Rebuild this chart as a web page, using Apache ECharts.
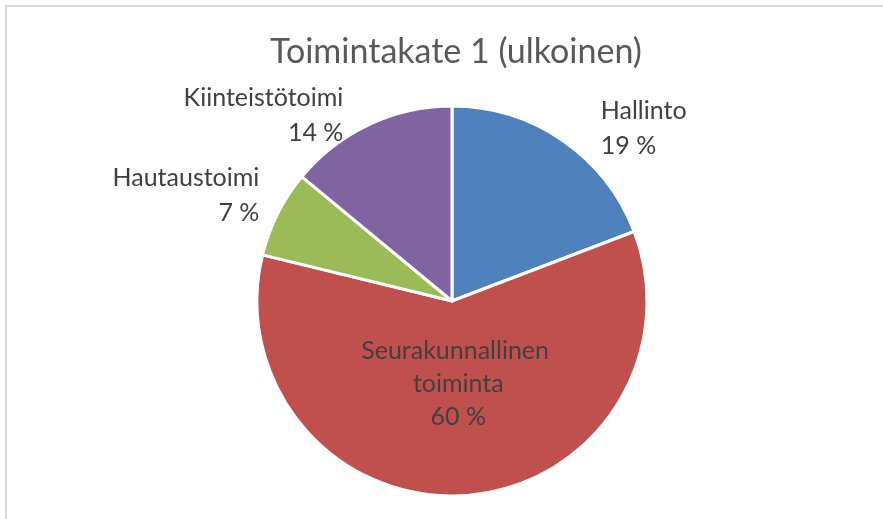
<!DOCTYPE html>
<html>
<head>
<meta charset="utf-8">
<script src="https://cdn.jsdelivr.net/npm/echarts@6/dist/echarts.min.js"></script>
<style>
  html, body { margin: 0; padding: 0; background: #fff; }
  #chart { width: 883px; height: 519px; }
</style>
</head>
<body>
<div id="chart"></div>
<script>
// data
var categories = ['Hallinto', 'Seurakunnallinen toiminta', 'Hautaustoimi', 'Kiinteistötoimi'];
var shares = [19.2, 59.6, 7.2, 14.0];
var colors = ['#4F81BD', '#C0504D', '#9BBB59', '#8064A2'];
var titleText = 'Toimintakate 1 (ulkoinen)';

// small nudges so labels sit where Excel put them
var labelShift = [[19, 9], [0, -17], [9, -7], [-10, 13]];

var myChart = echarts.init(document.getElementById('chart'));

var pieData = categories.map(function (name, i) {
    var item = { name: name, value: shares[i], itemStyle: { color: colors[i] } };
    if (i === 1) {
        // big slice keeps its label inside
        item.label = { position: 'inside', width: 220, overflow: 'break', lineHeight: 33 };
    }
    return item;
});

myChart.setOption({
    animation: false,
    title: {
        text: titleText,
        left: 265,
        top: 30,
        textStyle: { fontFamily: 'Lato', fontSize: 34, fontWeight: 'normal', color: '#595959' }
    },
    graphic: [{
        type: 'rect',
        shape: { x: 6, y: 6, width: 1000, height: 1000 },
        style: { fill: 'none', stroke: '#d9d9d9', lineWidth: 2 },
        silent: true
    }],
    series: [{
        type: 'pie',
        center: [452, 301],
        radius: 195,
        startAngle: 90,
        clockwise: true,
        data: pieData,
        itemStyle: { borderColor: '#fff', borderWidth: 3 },
        label: {
            show: true,
            position: 'outside',
            fontFamily: 'Lato',
            fontSize: 25,
            lineHeight: 35,
            color: '#404040',
            align: 'center',
            formatter: function (p) {
                return p.name + '\n' + Math.round(p.percent) + ' %';
            }
        },
        labelLine: { show: false, length: 25, length2: 0 },
        labelLayout: function (p) {
            return { dx: labelShift[p.dataIndex][0], dy: labelShift[p.dataIndex][1] };
        }
    }]
});
</script>
</body>
</html>
